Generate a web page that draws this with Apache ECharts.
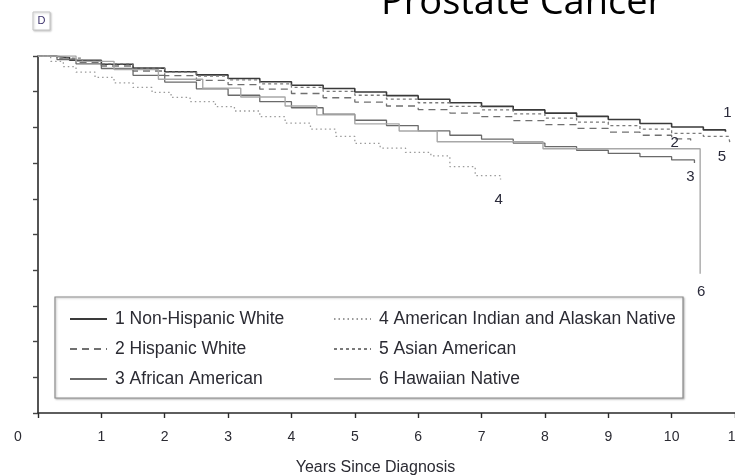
<!DOCTYPE html>
<html>
<head>
<meta charset="utf-8">
<script src="https://cdn.jsdelivr.net/npm/echarts@6/dist/echarts.min.js"></script>
<style>
  html, body { margin: 0; padding: 0; background: #fff; overflow: hidden; }
  #chart { width: 735px; height: 475px; }
</style>
</head>
<body>
<div id="chart"></div>
<script>
// Kaplan–Meier style survival estimates by group (years since diagnosis, survival proportion)
const groupNames = [
  '1 Non-Hispanic White',
  '2 Hispanic White',
  '3 African American',
  '4 American Indian and Alaskan Native',
  '5 Asian American',
  '6 Hawaiian Native'
];
const curveTags = ['1', '2', '3', '4', '5', '6'];

const timesNHW = [0, 0.25, 0.5, 1, 1.5, 2, 2.5, 3, 3.5, 4, 4.5, 5, 5.5, 6, 6.5, 7, 7.5, 8, 8.5, 9, 9.5, 10, 10.5, 10.85];
const survNHW  = [1, 0.995, 0.988, 0.977, 0.966, 0.956, 0.947, 0.937, 0.928, 0.918, 0.909, 0.899, 0.889, 0.879, 0.869, 0.859, 0.849, 0.840, 0.831, 0.822, 0.811, 0.801, 0.793, 0.788];

const timesHW = [0, 0.3, 0.6, 1, 1.5, 2, 2.5, 3, 3.5, 4, 4.5, 5, 5.5, 6, 6.5, 7, 7.5, 8, 8.5, 9, 9.5, 10, 10.3];
const survHW  = [1, 0.992, 0.982, 0.972, 0.958, 0.945, 0.932, 0.920, 0.907, 0.895, 0.883, 0.871, 0.860, 0.850, 0.840, 0.830, 0.819, 0.808, 0.797, 0.787, 0.778, 0.768, 0.763];

const timesAA = [0, 0.3, 0.6, 1, 1.5, 2, 2.5, 3, 3.5, 4, 4.5, 5, 5.5, 6, 6.5, 7, 7.5, 8, 8.5, 9, 9.5, 10, 10.36];
const survAA  = [1, 0.99, 0.978, 0.965, 0.946, 0.927, 0.908, 0.890, 0.872, 0.855, 0.837, 0.820, 0.805, 0.790, 0.778, 0.767, 0.756, 0.746, 0.736, 0.727, 0.718, 0.709, 0.70];

const timesAIAN = [0, 0.2, 0.4, 0.6, 0.9, 1.2, 1.5, 1.8, 2.1, 2.4, 2.8, 3.1, 3.5, 3.9, 4.3, 4.7, 5.0, 5.4, 5.8, 6.2, 6.5, 6.9, 7.3];
const survAIAN  = [1, 0.985, 0.97, 0.955, 0.94, 0.925, 0.912, 0.898, 0.884, 0.872, 0.858, 0.846, 0.83, 0.812, 0.795, 0.775, 0.755, 0.742, 0.73, 0.72, 0.69, 0.665, 0.654];

const timesAsian = [0, 0.3, 0.7, 1, 1.5, 2, 2.5, 3, 3.5, 4, 4.5, 5, 5.5, 6, 6.5, 7, 7.5, 8, 8.5, 9, 9.5, 10, 10.5, 10.9, 10.92];
const survAsian  = [1, 0.994, 0.985, 0.978, 0.967, 0.955, 0.944, 0.933, 0.922, 0.912, 0.901, 0.890, 0.879, 0.869, 0.859, 0.849, 0.838, 0.826, 0.815, 0.805, 0.795, 0.783, 0.775, 0.771, 0.756];

const timesHN = [0, 0.6, 1.2, 1.9, 2.6, 3.2, 3.9, 4.4, 5.0, 5.7, 6.3, 7.97, 10.45];
const survHN  = [1, 0.985, 0.962, 0.935, 0.91, 0.885, 0.86, 0.835, 0.81, 0.79, 0.76, 0.74, 0.39];

// x-axis range (years); the last tick sits on the right edge
const yearMin = 0;
const yearMax = 11;

const curves = [
  [timesNHW, survNHW],
  [timesHW, survHW],
  [timesAA, survAA],
  [timesAIAN, survAIAN],
  [timesAsian, survAsian],
  [timesHN, survHN]
];

// line looks per group
const lineLooks = [
  { color: '#3a3a3a', width: 1.6, type: 'solid' },
  { color: '#707070', width: 1.3, type: [7, 5] },
  { color: '#6a6a6a', width: 1.3, type: 'solid' },
  { color: '#9a9a9a', width: 1.3, type: [1.5, 3] },
  { color: '#7a7a7a', width: 1.3, type: [3, 3] },
  { color: '#a8a8a8', width: 1.4, type: 'solid' }
];
// where each curve's number sits relative to the curve end (px)
const tagOffsets = [[2, -19], [-16, 2], [-4, 14], [-2, 20], [-8, 14], [1, 18]];

const font = 'Liberation Sans, Arial, sans-serif';

const series = curves.map(function (c, i) {
  const pts = c[0].map(function (t, k) { return [t, c[1][k]]; });
  const last = pts[pts.length - 1];
  return {
    name: groupNames[i],
    type: 'line',
    step: 'end',
    showSymbol: false,
    symbol: 'none',
    silent: true,
    data: pts,
    lineStyle: { color: lineLooks[i].color, width: lineLooks[i].width, type: lineLooks[i].type },
    itemStyle: { color: lineLooks[i].color },
    markPoint: {
      silent: true,
      symbol: 'circle',
      symbolSize: 0,
      data: [{ coord: last, value: curveTags[i] }],
      label: {
        show: true,
        position: 'inside',
        formatter: curveTags[i],
        offset: tagOffsets[i],
        color: '#2a2a3a',
        fontSize: 15,
        fontFamily: font
      }
    }
  };
});

const legendText = { color: '#2b2b33', fontSize: 17.5, lineHeight: 14, fontFamily: font, padding: [0, 0, 0, 3] };
const legendBase = {
  orient: 'vertical',
  top: 310,
  padding: 0,
  itemWidth: 37,
  itemHeight: 14,
  itemGap: 12,
  textStyle: legendText,
  itemStyle: { opacity: 0 },
  selectedMode: false
};

const chart = echarts.init(document.getElementById('chart'), null, { renderer: 'canvas' });
chart.setOption({
  animation: false,
  backgroundColor: '#ffffff',
  grid: { left: 38, top: 56, right: 0, bottom: 62, containLabel: false, outerBoundsMode: 'none' },
  xAxis: {
    type: 'value',
    min: yearMin,
    max: yearMax,
    interval: 1,
    name: 'Years Since Diagnosis',
    nameLocation: 'middle',
    nameGap: 47,
    nameTextStyle: { color: '#2b2b33', fontSize: 16, fontFamily: font, padding: [0, 22, 0, 0] },
    axisLine: { show: true, lineStyle: { color: '#2a2a2a', width: 1.6 } },
    axisTick: { show: true, inside: false, length: 5, lineStyle: { color: '#2a2a2a', width: 1.4 } },
    axisLabel: {
      margin: 17,
      color: '#2b2b33',
      fontSize: 14,
      fontFamily: font,
      showMaxLabel: true,
      formatter: function (v) { return v === 0 ? '{z|0}' : String(v); },
      rich: { z: { padding: [0, 40, 0, 0], fontSize: 14, color: '#2b2b33', fontFamily: font } }
    },
    splitLine: { show: false }
  },
  yAxis: {
    type: 'value',
    min: 0,
    max: 1,
    interval: 0.1,
    axisLine: { show: true, lineStyle: { color: '#2a2a2a', width: 1.6 } },
    axisTick: { show: true, inside: false, length: 5, lineStyle: { color: '#444', width: 1.4 } },
    axisLabel: { show: false },
    splitLine: { show: false }
  },
  legend: [
    Object.assign({}, legendBase, { data: groupNames.slice(0, 3), left: 69 }),
    Object.assign({}, legendBase, { data: groupNames.slice(3), left: 333 })
  ],
  graphic: [
    {
      type: 'rect',
      silent: true,
      z: -1,
      shape: { x: 55, y: 297, width: 628, height: 101 },
      style: { fill: '#fff', stroke: '#8c8c8c', lineWidth: 1.2, shadowColor: 'rgba(0,0,0,0.25)', shadowBlur: 2, shadowOffsetX: 1, shadowOffsetY: 1 }
    },
    {
      type: 'rect',
      silent: true,
      shape: { x: 33, y: 12, width: 17, height: 18 },
      style: { fill: '#fff', stroke: '#c4c4c4', lineWidth: 1, shadowColor: 'rgba(0,0,0,0.2)', shadowBlur: 2, shadowOffsetX: 1, shadowOffsetY: 1 }
    },
    {
      type: 'text',
      silent: true,
      style: { x: 41.5, y: 21, text: 'D', align: 'center', verticalAlign: 'middle', fill: '#3a2f6a', font: '11px Liberation Sans, Arial, sans-serif' }
    },
    {
      type: 'text',
      silent: true,
      style: { x: 522, y: 22, text: 'Prostate Cancer', align: 'center', verticalAlign: 'bottom', fill: '#000', font: '38px "Open Sans", sans-serif' }
    }
  ],
  series: series
});
</script>
</body>
</html>
